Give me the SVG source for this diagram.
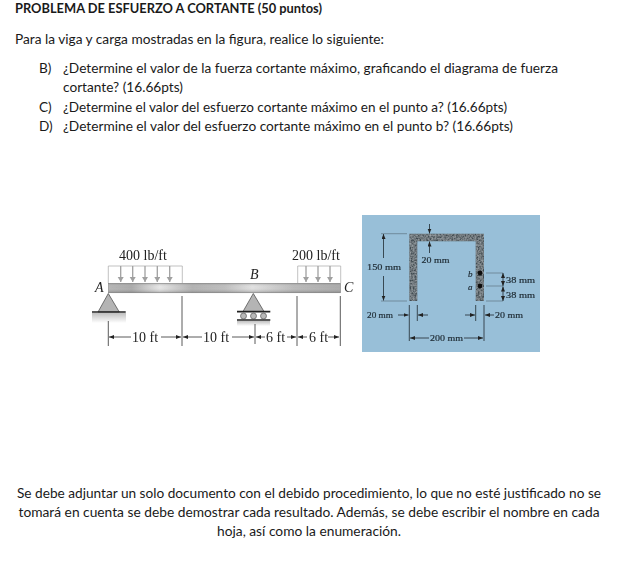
<svg xmlns="http://www.w3.org/2000/svg" width="620" height="565" viewBox="0 0 620 565">
<style>
.t{font-family:Lato,"Noto Sans",sans-serif;font-size:13.6px;fill:#1a1a1a}
.s{font-family:"Liberation Serif","Times New Roman",serif;font-size:14px;fill:#222}
.i{font-style:italic}
.m{font-family:"Liberation Serif","Times New Roman",serif;font-size:9px;fill:#1f2c35;stroke:#1f2c35;stroke-width:.2}
.d{stroke:#333;stroke-width:.8;fill:none}
.dm{stroke:#1f2a30;stroke-width:.8;fill:none}
.ex{stroke:#5f7584;stroke-width:.7;fill:none}
.l{stroke:#a8a8a8;stroke-width:.7;fill:none}
.ar{stroke:#a0a0a0;stroke-width:1.3;fill:none;marker-end:url(#ga)}
.tri{fill:#b4b4b4;stroke:#444;stroke-width:.7}
.bar{stroke:#222;stroke-width:1.7}
.ro{fill:#b8b8b8;stroke:#444;stroke-width:.6}
</style>
<defs>
<marker id="ga" markerUnits="userSpaceOnUse" markerWidth="7" markerHeight="7" refX="5" refY="3" orient="auto"><path d="M0,0L5,3L0,6z" fill="#a0a0a0"/></marker>
<marker id="k" markerUnits="userSpaceOnUse" markerWidth="6" markerHeight="5" refX="5" refY="2" orient="auto"><path d="M0,0L5,2L0,4z" fill="#222"/></marker>
<linearGradient id="beam" x1="0" x2="1" y1="0" y2="0"><stop offset="0" stop-color="#b4b4b4"/><stop offset=".1" stop-color="#a8a8a8"/><stop offset=".22" stop-color="#e6e6e6"/><stop offset=".36" stop-color="#b0b0b0"/><stop offset=".5" stop-color="#bcbcbc"/><stop offset=".62" stop-color="#e0e0e0"/><stop offset=".8" stop-color="#b8b8b8"/><stop offset="1" stop-color="#a8a8a8"/></linearGradient>
<linearGradient id="beamv" x1="0" x2="0" y1="0" y2="1"><stop offset="0" stop-color="#666" stop-opacity=".35"/><stop offset=".4" stop-color="#fff" stop-opacity="0"/><stop offset="1" stop-color="#555" stop-opacity=".4"/></linearGradient>
<linearGradient id="sh" x1="0" x2="0" y1="0" y2="1"><stop offset="0" stop-color="#c0c0c0"/><stop offset="1" stop-color="#fff"/></linearGradient>
<filter id="soft" x="-2%" y="-2%" width="104%" height="104%"><feGaussianBlur stdDeviation=".35"/></filter>
<filter id="grain" x="0" y="0" width="100%" height="100%"><feTurbulence type="fractalNoise" baseFrequency=".6" numOctaves="2" seed="4" result="n"/><feColorMatrix in="n" type="matrix" values="0 0 0 0 .62  0 0 0 0 .67  0 0 0 0 .7  .8 0 0 0 -.2" result="c"/><feComposite in="c" in2="SourceAlpha" operator="in" result="g"/><feMerge><feMergeNode in="SourceGraphic"/><feMergeNode in="g"/></feMerge></filter>
</defs>
<g id="heading">
<text class="t" x="15" y="12.5" font-weight="bold" textLength="307" lengthAdjust="spacingAndGlyphs">PROBLEMA DE ESFUERZO A CORTANTE (50 puntos)</text>
<text class="t" x="15" y="44" textLength="369" lengthAdjust="spacingAndGlyphs">Para la viga y carga mostradas en la figura, realice lo siguiente:</text>
</g>
<g id="questions">
<text class="t" x="39" y="73">B)</text>
<text class="t" x="63" y="73" textLength="495" lengthAdjust="spacingAndGlyphs">¿Determine el valor de la fuerza cortante máximo, graficando el diagrama de fuerza</text>
<text class="t" x="63" y="92" textLength="120" lengthAdjust="spacingAndGlyphs">cortante? (16.66pts)</text>
<text class="t" x="39" y="112">C)</text>
<text class="t" x="63" y="112" textLength="444" lengthAdjust="spacingAndGlyphs">¿Determine el valor del esfuerzo cortante máximo en el punto a? (16.66pts)</text>
<text class="t" x="39" y="131">D)</text>
<text class="t" x="63" y="131" textLength="450" lengthAdjust="spacingAndGlyphs">¿Determine el valor del esfuerzo cortante máximo en el punto b? (16.66pts)</text>
</g>
<g id="beam-figure" filter="url(#soft)">
<g id="loads">
<path class="l" d="M108.3,283V266H182.3V283M297.7,283V266H340.7V283"/>
<path class="ar" d="M120.7,266V282"/><path class="ar" d="M132.7,266V282"/><path class="ar" d="M145,266V282"/><path class="ar" d="M157.3,266V282"/><path class="ar" d="M169.7,266V282"/>
<path class="ar" d="M306,266V282"/><path class="ar" d="M318,266V282"/><path class="ar" d="M330,266V282"/>
<text class="s" x="119" y="260">400 lb/ft</text>
<text class="s" x="292" y="260">200 lb/ft</text>
</g>
<g id="beam-AC">
<rect x="108.5" y="283.3" width="232" height="9.5" fill="url(#beam)"/>
<rect x="108.5" y="283.3" width="232" height="9.5" fill="url(#beamv)" stroke="#777" stroke-width=".5"/>
</g>
<g id="support-A">
<rect x="92" y="313" width="34" height="10" fill="url(#sh)"/>
<path class="tri" d="M108.3,293.5L119.3,312H98z"/>
<path class="bar" d="M92,312H125.7"/>
<text class="s i" x="95" y="292">A</text>
</g>
<g id="support-B">
<path class="tri" d="M253.3,293.5L264,311.5H243z"/>
<path class="bar" d="M237,311.7H270.3M237,320H270.3"/>
<circle class="ro" cx="243.5" cy="316" r="3"/><circle class="ro" cx="253.5" cy="316" r="3"/><circle class="ro" cx="263.5" cy="316" r="3"/>
<rect x="237" y="321" width="33" height="5" fill="url(#sh)"/>
<text class="s i" x="250" y="279">B</text>
</g>
<text class="s i" id="label-C" x="344" y="292">C</text>
<g id="dimensions">
<path class="d" d="M108.3,321V346M182,296V346M255,324V344M297,296V346M340.3,296V346"/>
<path class="d" marker-end="url(#k)" d="M131,337H109"/>
<path class="d" marker-end="url(#k)" d="M161,337H181"/>
<path class="d" marker-end="url(#k)" d="M202,337H183"/>
<path class="d" marker-end="url(#k)" d="M232,337H254"/>
<path class="d" marker-end="url(#k)" d="M265,337H256"/>
<path class="d" marker-end="url(#k)" d="M287,337H296"/>
<path class="d" marker-end="url(#k)" d="M307,337H298"/>
<path class="d" marker-end="url(#k)" d="M328,337H339"/>
<text class="s" x="132" y="342">10 ft</text>
<text class="s" x="203" y="342">10 ft</text>
<text class="s" x="266" y="342">6 ft</text>
<text class="s" x="309" y="342">6 ft</text>
</g>
</g>
<g id="section-figure" filter="url(#soft)">
<rect x="362" y="215" width="178" height="137" fill="#98bfd8"/>
<g id="channel">
<path d="M409.3,233.7H484V301H475.7V241.3H417.3V301H409.3z" fill="#414b51" filter="url(#grain)"/>
</g>
<g id="points">
<circle cx="480" cy="273" r="2.4" fill="#111"/>
<circle cx="480" cy="286" r="2.4" fill="#111"/>
<text class="m i" x="468" y="277">b</text>
<text class="m i" x="468" y="290">a</text>
</g>
<g id="section-dimensions">
<path class="ex" d="M381,233.7H407M381,301H407"/>
<path class="dm" marker-end="url(#k)" d="M429.5,224V233.5"/>
<path class="dm" marker-end="url(#k)" d="M429.5,253V241.5"/>
<path class="dm" marker-end="url(#k)" d="M383.5,258V234"/>
<path class="dm" marker-end="url(#k)" d="M383.5,276V300.5"/>
<path class="ex" d="M486,273H503M486,286H503M486,301H503"/>
<path class="dm" marker-end="url(#k)" d="M503,280V273"/>
<path class="dm" marker-end="url(#k)" d="M503,280V286"/>
<path class="dm" marker-end="url(#k)" d="M503,293V286.5"/>
<path class="dm" marker-end="url(#k)" d="M503,293V301"/>
<path class="dm" d="M409.3,305V341M417.3,305V321M475.7,305V321M484,305V341"/>
<path class="dm" marker-end="url(#k)" d="M398,315H408.5"/>
<path class="dm" marker-end="url(#k)" d="M428,315H418"/>
<path class="dm" marker-end="url(#k)" d="M465,315H475"/>
<path class="dm" marker-end="url(#k)" d="M494,315H485"/>
<path class="dm" marker-end="url(#k)" d="M429,338H410"/>
<path class="dm" marker-end="url(#k)" d="M464,338H483"/>
<text class="m" x="367" y="270" textLength="34" lengthAdjust="spacingAndGlyphs">150 mm</text>
<text class="m" x="421.5" y="263" textLength="28" lengthAdjust="spacingAndGlyphs">20 mm</text>
<text class="m" x="506" y="283" textLength="29" lengthAdjust="spacingAndGlyphs">38 mm</text>
<text class="m" x="506" y="298" textLength="29" lengthAdjust="spacingAndGlyphs">38 mm</text>
<text class="m" x="367" y="318" textLength="26" lengthAdjust="spacingAndGlyphs">20 mm</text>
<text class="m" x="495" y="318" textLength="28" lengthAdjust="spacingAndGlyphs">20 mm</text>
<text class="m" x="430" y="341" textLength="33" lengthAdjust="spacingAndGlyphs">200 mm</text>
</g>
</g>
<g id="footer">
<text class="t" x="309" y="498" text-anchor="middle" textLength="584" lengthAdjust="spacingAndGlyphs">Se debe adjuntar un solo documento con el debido procedimiento, lo que no esté justificado no se</text>
<text class="t" x="309" y="517" text-anchor="middle" textLength="581" lengthAdjust="spacingAndGlyphs">tomará en cuenta se debe demostrar cada resultado. Además, se debe escribir el nombre en cada</text>
<text class="t" x="309" y="536" text-anchor="middle" textLength="184" lengthAdjust="spacingAndGlyphs">hoja, así como la enumeración.</text>
</g>
</svg>
